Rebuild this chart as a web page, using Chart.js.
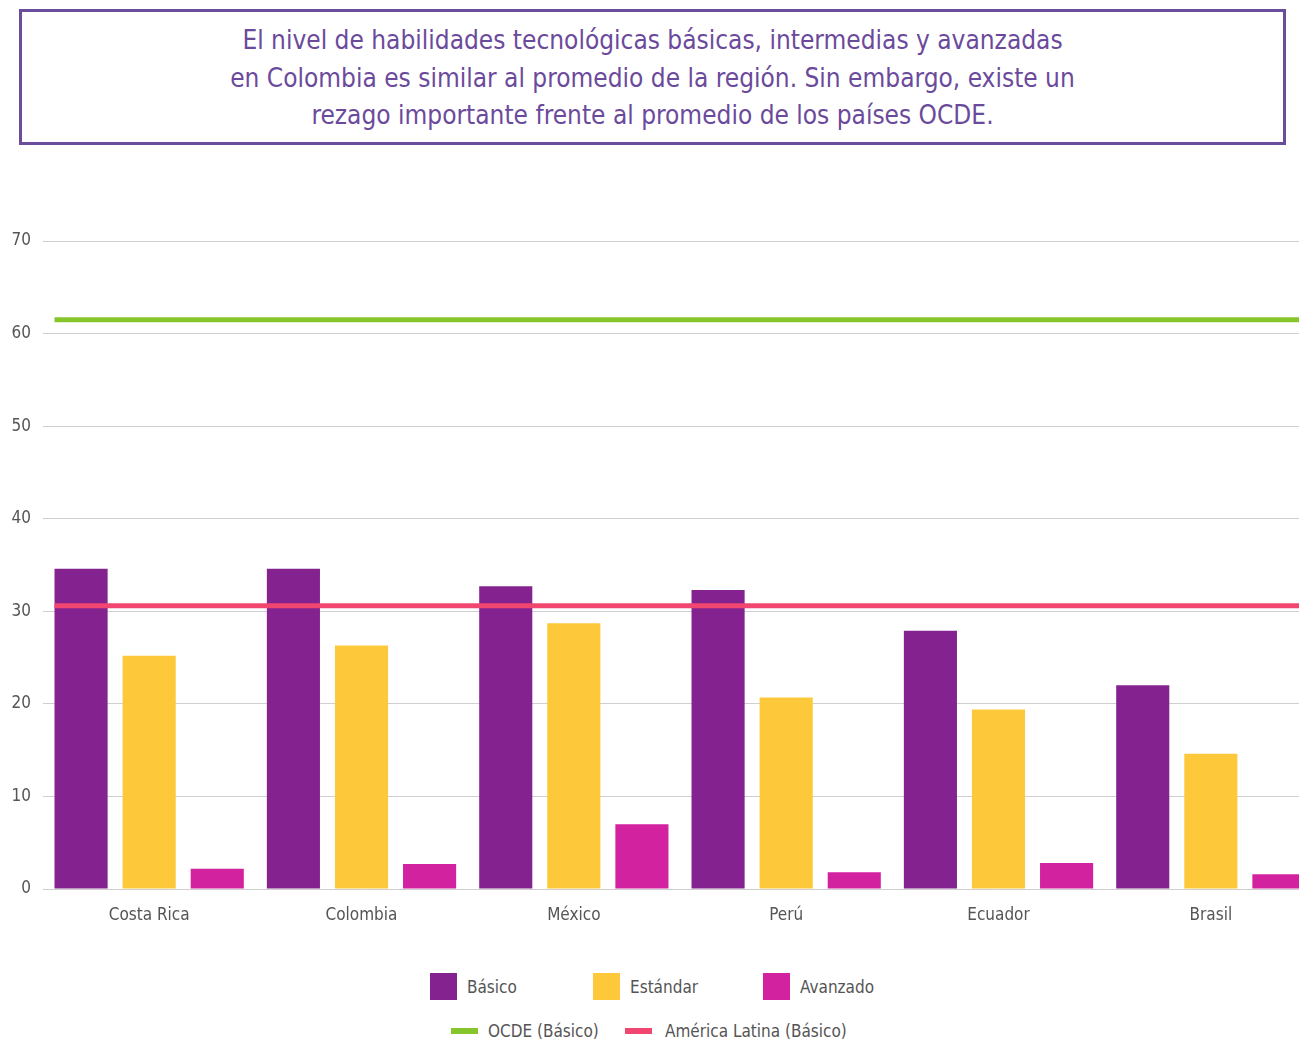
<!DOCTYPE html>
<html lang="es">
<head>
<meta charset="utf-8">
<title>Habilidades tecnológicas</title>
<script src="https://cdn.jsdelivr.net/npm/chart.js@4.4.1/dist/chart.umd.min.js"></script>
<style>
  html, body {
    margin: 0;
    padding: 0;
    background: #fff;
    overflow: hidden;
    width: 1299px;
    height: 1043px;
  }
  body {
    position: relative;
    font-family: "Liberation Sans Narrow", "DejaVu Sans Condensed", "Roboto", sans-serif;
  }
  .title-box {
    position: absolute;
    left: 19px;
    top: 9px;
    width: 1261px;
    height: 130px;
    border: 3px solid #6b4e9b;
    color: #6b4a9c;
    font-size: 26px;
    line-height: 37.5px;
    text-align: center;
    box-sizing: content-box;
  }
  .title-box p {
    margin: 0;
    padding-top: 10px;
  }
  #chart {
    position: absolute;
    left: 0;
    top: 200px;
  }
  .legend-item {
    position: absolute;
    color: #555;
    font-size: 17px;
    line-height: 20px;
    white-space: nowrap;
  }
  .legend-item i {
    position: absolute;
    left: 0;
  }
</style>
</head>
<body>
<div class="title-box">
  <p>El nivel de habilidades tecnológicas básicas, intermedias y avanzadas<br>
  en Colombia es similar al promedio de la región. Sin embargo, existe un<br>
  rezago importante frente al promedio de los países OCDE.</p>
</div>
<canvas id="chart" width="1320" height="729"></canvas>
<div id="legend"></div>

<script>
  // Data
  const countries = ["Costa Rica", "Colombia", "México", "Perú", "Ecuador", "Brasil"];
  const basico = [34.6, 34.6, 32.7, 32.3, 27.9, 22.0];
  const estandar = [25.2, 26.3, 28.7, 20.7, 19.4, 14.6];
  const avanzado = [2.2, 2.7, 7.0, 1.8, 2.8, 1.6];
  const ocdeBasico = 61.5;
  const latamBasico = 30.6;
  const yTicks = [0, 10, 20, 30, 40, 50, 60, 70];

  const colors = {
    basico: "#84238f",
    estandar: "#fdc93a",
    avanzado: "#d3229f",
    ocde: "#86c52b",
    latam: "#f0466f",
  };

  const refLines = [
    { label: "OCDE (Básico)", value: ocdeBasico, color: colors.ocde },
    { label: "América Latina (Básico)", value: latamBasico, color: colors.latam },
  ];

  // Horizontal reference lines drawn through the y scale, over the bars
  const refLinePlugin = {
    id: "refLines",
    afterDatasetsDraw(chart) {
      const ctx = chart.ctx;
      const area = chart.chartArea;
      const first = chart.getDatasetMeta(0).data[0];
      const startX = first.x - first.width / 2;
      ctx.save();
      refLines.forEach(function (line) {
        const y = chart.scales.y.getPixelForValue(line.value);
        ctx.strokeStyle = line.color;
        ctx.lineWidth = 5;
        ctx.beginPath();
        ctx.moveTo(startX, y);
        ctx.lineTo(area.right, y);
        ctx.stroke();
      });
      ctx.restore();
    },
  };

  const fontFamily = '"Liberation Sans Narrow", "DejaVu Sans Condensed", Roboto, sans-serif';

  const ctx = document.getElementById("chart").getContext("2d");
  new Chart(ctx, {
    type: "bar",
    data: {
      labels: countries,
      datasets: [
        { label: "Básico", data: basico, backgroundColor: colors.basico },
        { label: "Estándar", data: estandar, backgroundColor: colors.estandar },
        { label: "Avanzado", data: avanzado, backgroundColor: colors.avanzado },
      ],
    },
    options: {
      responsive: false,
      animation: false,
      devicePixelRatio: 1,
      categoryPercentage: 0.962,
      barPercentage: 0.78,
      layout: {
        padding: { top: 41, right: 3, bottom: 0, left: 0 },
      },
      plugins: {
        legend: { display: false },
        tooltip: { enabled: false },
      },
      scales: {
        x: {
          grid: { display: false },
          border: { display: false },
          ticks: {
            color: "#555",
            padding: 8,
            font: { family: fontFamily, size: 17 },
          },
          afterFit(scale) {
            scale.height = 40;
          },
        },
        y: {
          min: 0,
          max: 70,
          afterBuildTicks(scale) {
            scale.ticks = yTicks.map(function (v) { return { value: v }; });
          },
          grid: { color: "#cfcfcf", lineWidth: 1, drawTicks: false },
          border: { display: false },
          ticks: {
            color: "#555",
            padding: 12,
            font: { family: fontFamily, size: 17 },
          },
          afterFit(scale) {
            scale.width = 43;
          },
        },
      },
    },
    plugins: [refLinePlugin],
  });

  // HTML legend in two rows like the reference
  const legend = document.getElementById("legend");
  const barItems = [
    { label: "Básico", color: colors.basico, left: 430 },
    { label: "Estándar", color: colors.estandar, left: 593 },
    { label: "Avanzado", color: colors.avanzado, left: 763 },
  ];
  barItems.forEach(function (item) {
    const el = document.createElement("div");
    el.className = "legend-item";
    el.style.left = item.left + "px";
    el.style.top = "977px";
    el.style.paddingLeft = "37px";
    el.innerHTML = '<i style="top:-4px;width:27px;height:27px;background:' + item.color + '"></i>' + item.label;
    legend.appendChild(el);
  });
  const lineLefts = [451, 625];
  refLines.forEach(function (line, i) {
    const el = document.createElement("div");
    el.className = "legend-item";
    el.style.left = lineLefts[i] + "px";
    el.style.top = "1021px";
    el.style.paddingLeft = i === 0 ? "37px" : "40px";
    el.innerHTML = '<i style="top:7px;width:27px;height:6px;background:' + line.color + '"></i>' + line.label;
    legend.appendChild(el);
  });
</script>
</body>
</html>
